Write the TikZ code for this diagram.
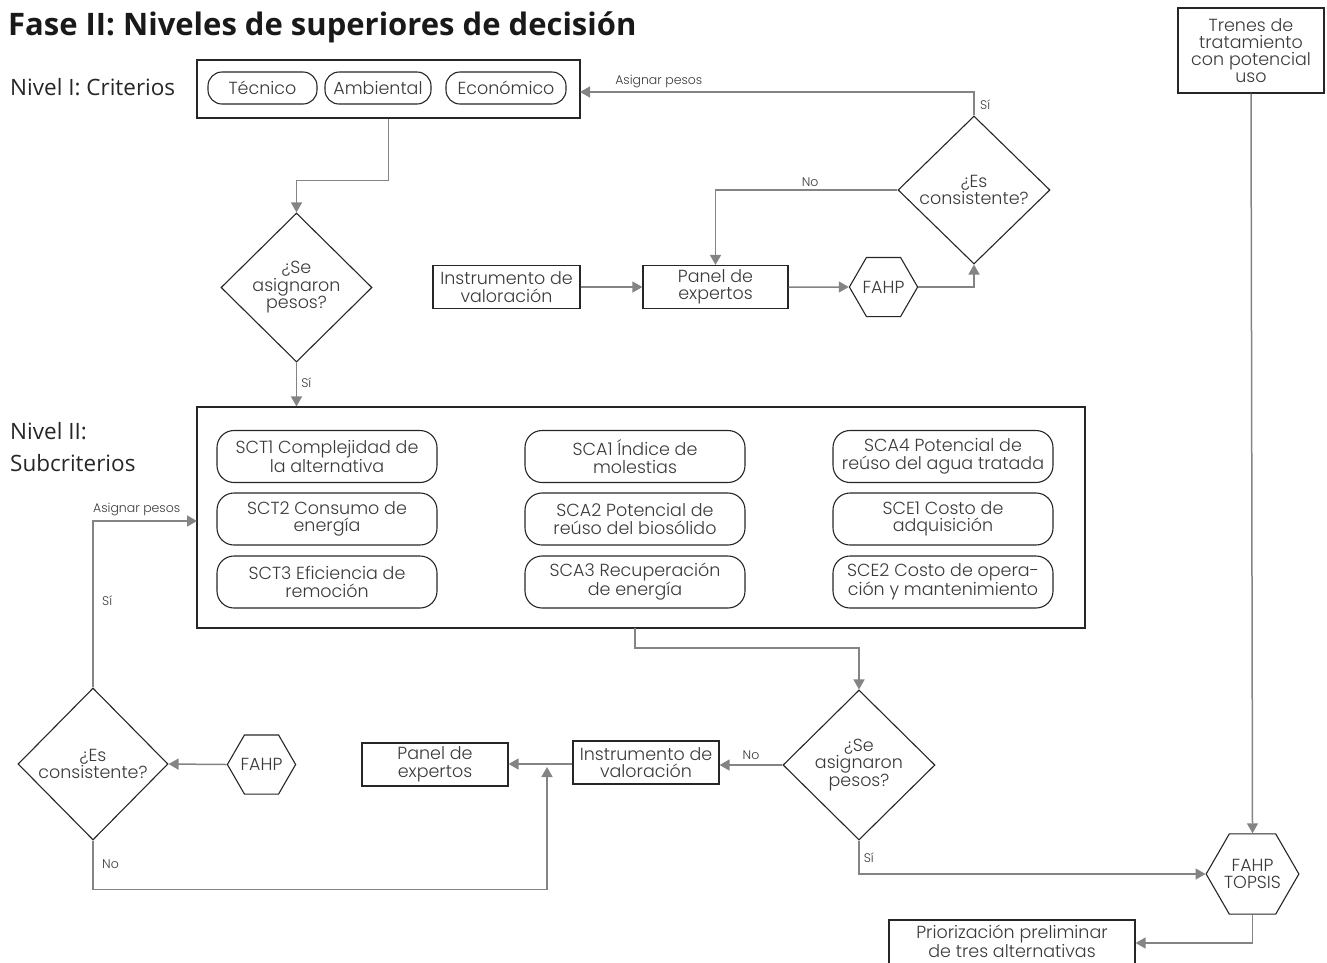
\documentclass[tikz,border=0pt]{standalone}
\usepackage{fontspec}
\setmainfont{Poppins}[UprightFont=* Light]
\newfontfamily\myr{Open Sans}
\usetikzlibrary{shapes.geometric,arrows.meta,calc}
\definecolor{tx}{HTML}{3A3A3A}
\definecolor{ln}{HTML}{848484}
\definecolor{bd}{HTML}{262626}
\begin{document}
\begin{tikzpicture}[x=1pt,y=-1pt,
  every node/.style={text=tx, font=\fontsize{17.5}{17.5}\selectfont, align=center, inner sep=0pt},
  box/.style={draw=bd, line width=1.2pt, minimum width=#1, minimum height=43pt},
  pill/.style={draw=bd, line width=1.1pt, rounded corners=17pt, minimum width=220pt, minimum height=52pt},
  cpill/.style={draw=bd, line width=1.1pt, rounded corners=14pt, minimum height=32pt, minimum width=#1},
  dia/.style={diamond, draw=bd, line width=1.1pt, minimum width=152pt, minimum height=148pt},
  hexa/.style={regular polygon, regular polygon sides=6, draw=bd, line width=1.1pt, minimum size=#1},
  conn/.style={draw=ln, line width=1.5pt, -{Triangle[length=10pt,width=11pt]}},
  lbl/.style={font=\fontsize{12.5}{13}\selectfont, text=tx},
  lvl/.style={font=\myr\fontsize{22.5}{32}\selectfont, text=black!85, align=left}]
\useasboundingbox (0,0) rectangle (1327,962);

% titles
\node[anchor=base west, font=\myr\bfseries\fontsize{31}{32}\selectfont, text=black!90] (title) at (8,35) {Fase II: Niveles de superiores de decisión};
\node[lvl, anchor=base west] (n1) at (10,95) {Nivel I: Criterios};
\node[lvl, anchor=north west] (n2) at (10,422) {Nivel II:\\Subcriterios};

% level I
\node[box=383pt, minimum height=58pt] (crit) at (388.5,89) {};
\node[cpill=109pt] (tec) at (262.5,88) {Técnico};
\node[cpill=106pt] (amb) at (378,88) {Ambiental};
\node[cpill=120pt] (eco) at (506,88) {Económico};

\node[dia] (dTR) at (974,190) {¿Es\\consistente?};
\node[box=147pt] (instT) at (506.5,287) {Instrumento de\\valoración};
\node[box=145pt] (panT) at (715.5,287) {Panel de\\expertos};
\node[hexa=67pt] (fahpT) at (883.5,287) {FAHP};
\node[dia, minimum width=151pt, minimum height=149pt] (dTL) at (296.5,287.5) {¿Se\\asignaron\\pesos?};

% level II
\node[box=888pt, minimum height=221pt] (sub) at (641,517.5) {};
\node[pill] (sct1) at (327,456.5) {SCT1 Complejidad de\\la alternativa};
\node[pill] (sct2) at (327,519) {SCT2 Consumo de\\energía};
\node[pill] (sct3) at (327,582) {SCT3 Eficiencia de\\remoción};
\node[pill] (sca1) at (635,456.5) {SCA1 Índice de\\molestias};
\node[pill] (sca2) at (635,519) {SCA2 Potencial de\\reúso del biosólido};
\node[pill] (sca3) at (635,582) {SCA3 Recuperación\\de energía};
\node[pill] (sca4) at (943,456.5) {SCA4 Potencial de\\reúso del agua tratada};
\node[pill] (sce1) at (943,519) {SCE1 Costo de\\adquisición};
\node[pill] (sce2) at (943,582) {SCE2 Costo de opera-\\ción y mantenimiento};

\node[dia, minimum width=150pt, minimum height=152pt] (dBL) at (93,764) {¿Es\\consistente?};
\node[hexa=67pt] (fahpB) at (261.5,764.5) {FAHP};
\node[box=146pt] (panB) at (435,764.5) {Panel de\\expertos};
\node[box=146pt] (instB) at (646,762.5) {Instrumento de\\valoración};
\node[dia, minimum height=150pt] (dBR) at (859,765) {¿Se\\asignaron\\pesos?};
\node[hexa=91pt] (topsis) at (1252.5,874) {FAHP\\TOPSIS};
\node[box=146pt, minimum height=85pt, font=\fontsize{17.5}{17}\selectfont] (tren) at (1251,50.5) {Trenes de\\tratamiento\\con potencial\\uso};
\node[draw=bd, line width=1.2pt, minimum width=246pt, minimum height=46pt] (prior) at (1012,943) {};
\node (priort) at (1012,941) {Priorización preliminar\\de tres alternativas};

% helper coordinates
\coordinate (critin) at (580,92);
\coordinate (subin) at (197,521);
\coordinate (join) at (547,764);
\coordinate (subout) at (635,628);

% connectors
\draw[conn] (crit.south) -- ++(0,62) -| (dTL.north);
\draw[conn] (dTL.south) -- (dTL.south |- sub.north) node[lbl, pos=0.45, anchor=west, xshift=4pt] {Sí};
\draw[conn] (dTR.north) |- (critin) node[lbl, pos=0.9, anchor=south, yshift=3pt] {Asignar pesos};
\node[lbl, anchor=west] (siTR) at (980,105) {Sí};
\draw[conn] (dTR.west) -| (panT.north) node[lbl, pos=0.24, anchor=south, yshift=3pt] {No};
\draw[conn] (instT.east) -- (panT.west);
\draw[conn] (panT.east) -- (fahpT.west);
\draw[conn] (fahpT.east) -| (dTR.south);

\draw[conn] (subout) -- ++(0,20) -| (dBR.north);
\draw[conn] (dBR.west) -- (instB.east |- dBR.west) node[lbl, midway, anchor=south, yshift=5pt] {No};
\draw[conn] (instB.west |- join) -- (panB.east |- join);
\draw[conn] (dBR.south) |- (topsis.west) node[lbl, pos=0.25, anchor=west, xshift=4pt] {Sí};
\draw[conn] (tren.south) -- (topsis.north);
\draw[conn] (topsis.south) |- (prior.east);
\draw[conn] (fahpB.west) -- (dBL.east);
\draw[conn] (dBL.north) |- (subin) node[lbl, pos=0.71, anchor=south, yshift=4pt] {Asignar pesos};
\node[lbl, anchor=west] (siBL) at (102,601) {Sí};
\draw[conn] (dBL.south) -- ++(0,49) -| ([yshift=-3pt]join);
\node[lbl, anchor=west] (noBL) at (102,864) {No};
\end{tikzpicture}
\end{document}
